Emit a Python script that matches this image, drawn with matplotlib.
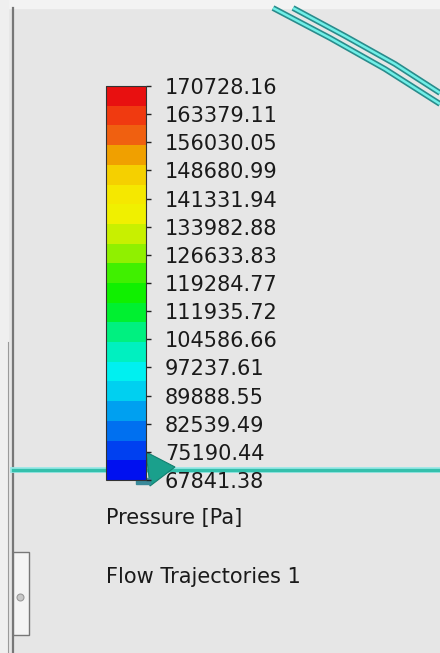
import numpy as np
import matplotlib as mpl
import matplotlib.pyplot as plt
from matplotlib.colors import ListedColormap, Normalize
from matplotlib.patches import Polygon, Rectangle

# --------------------------------------------------------------
# Legend data (pressure scale)
# --------------------------------------------------------------
tick_labels = ["170728.16", "163379.11", "156030.05", "148680.99", "141331.94",
               "133982.88", "126633.83", "119284.77", "111935.72", "104586.66",
               "97237.61", "89888.55", "82539.49", "75190.44", "67841.38"]
tick_values = [float(t) for t in tick_labels]

band_colors = ["#0010f0", "#0040f0", "#0070f0", "#00a0f0", "#00d0f0",
               "#00f0f0", "#00f0c0", "#00f080", "#00f030", "#10f000",
               "#40f000", "#90f000", "#c8f000", "#f0f000", "#f5e800",
               "#f5d000", "#f0a000", "#f06010", "#f03a10", "#e81010"]

legend_title = "Pressure [Pa]"
plot_name = "Flow Trajectories 1"

# trajectory traces seen in the viewport (screen pixels)
traj_a_x = [273, 330, 385, 440]
traj_a_y = [8, 38, 69, 104]
traj_b_x = [293, 345, 395, 440]
traj_b_y = [8, 36, 64, 93]
traj_c_x = [13, 440]
traj_c_y = [470, 470]

# --------------------------------------------------------------
# Figure
# --------------------------------------------------------------
W, H = 440, 653
fig = plt.figure(figsize=(W / 100, H / 100), dpi=100)
fig.patch.set_facecolor("#e6e6e6")

ax = fig.add_axes([0, 0, 1, 1])
ax.set_xlim(0, W)
ax.set_ylim(H, 0)
ax.axis("off")

# window frame
ax.add_patch(Rectangle((0, 0), W, 8, color="#f3f3f3", zorder=0))
ax.add_patch(Rectangle((0, 0), 8, H, color="#efefef", zorder=0))
ax.plot([13, 13], [8, H], color="#777777", lw=1.6, zorder=1)
ax.plot([8, 8], [342, H], color="#9a9a9a", lw=0.8, zorder=1)
ax.add_patch(Rectangle((13, 552), 16, 83, facecolor="#f4f4f4",
                       edgecolor="#777777", lw=1.0, zorder=2))
ax.plot([20], [597], "o", ms=5, color="#c8c8c8", mec="#999999", mew=0.8, zorder=3)

# trajectories
for xs, ys in [(traj_a_x, traj_a_y), (traj_b_x, traj_b_y)]:
    ax.plot(xs, ys, color="#2a8c8c", lw=4.2, solid_capstyle="butt",
            solid_joinstyle="round", zorder=2)
    ax.plot(xs, ys, color="#70f0e8", lw=1.8, solid_capstyle="butt",
            solid_joinstyle="round", zorder=3)
ax.plot(traj_c_x, traj_c_y, color="#9ae8e6", lw=4.2, zorder=2)
ax.plot(traj_c_x, traj_c_y, color="#34c0ac", lw=2.4, zorder=3)
ax.add_patch(Polygon([[146, 452], [175, 467], [150, 486]], closed=True,
                     facecolor="#1aa08c", edgecolor="#128070", lw=0.8, zorder=4))
ax.add_patch(Rectangle((136, 478), 14, 6, color="#3a8a9a", zorder=4))

# --------------------------------------------------------------
# Colour bar
# --------------------------------------------------------------
cax = fig.add_axes([106 / W, 1 - 480 / H, 40 / W, 394 / H])
cmap = ListedColormap(band_colors)
norm = Normalize(vmin=min(tick_values), vmax=max(tick_values))
cb = mpl.colorbar.ColorbarBase(cax, cmap=cmap, norm=norm, ticks=tick_values)
cb.set_ticklabels(tick_labels)
cb.outline.set_edgecolor("#333333")
cb.outline.set_linewidth(0.8)
cax.tick_params(axis="y", length=3.6, width=1.0, color="#222222", pad=10,
                labelsize=15, labelcolor="#1a1a1a", right=True, left=False)

ax.text(106, 518, legend_title, fontsize=15, color="#1a1a1a", va="center", ha="left")
ax.text(106, 577, plot_name, fontsize=15, color="#1a1a1a", va="center", ha="left")

fig.savefig("out.png", dpi=100, facecolor=fig.get_facecolor())
